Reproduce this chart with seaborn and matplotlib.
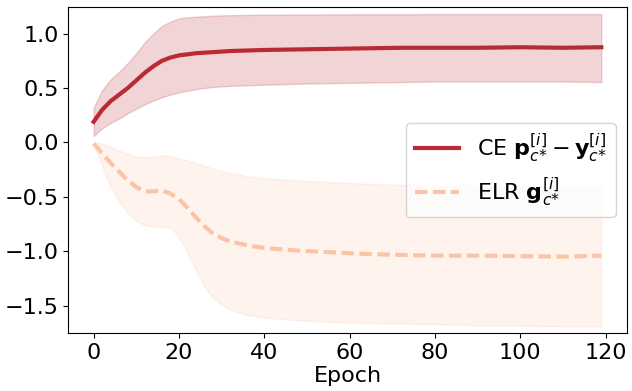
import matplotlib
matplotlib.use("Agg")
import matplotlib.pyplot as plt
import seaborn as sns

# ── data ────────────────────────────────────────────────────
epochs = [0, 2, 4, 6, 8, 10, 12, 14, 16, 18, 20, 22, 24, 26, 28, 30, 32,
          36, 40, 48, 56, 64, 72, 80, 90, 100, 110, 119]

ce_mean = [0.19, 0.30, 0.38, 0.44, 0.50, 0.57, 0.64, 0.70, 0.75, 0.78, 0.80,
           0.81, 0.82, 0.825, 0.83, 0.835, 0.84, 0.845, 0.85, 0.855, 0.86,
           0.865, 0.87, 0.87, 0.87, 0.875, 0.87, 0.875]
ce_upper = [0.32, 0.48, 0.58, 0.65, 0.73, 0.82, 0.92, 1.00, 1.07, 1.11, 1.14,
            1.15, 1.156, 1.16, 1.165, 1.168, 1.17, 1.172, 1.174, 1.176, 1.177,
            1.178, 1.178, 1.18, 1.18, 1.18, 1.18, 1.18]
ce_lower = [0.06, 0.13, 0.18, 0.22, 0.27, 0.31, 0.35, 0.385, 0.415, 0.44, 0.46,
            0.475, 0.49, 0.50, 0.51, 0.515, 0.52, 0.525, 0.53, 0.54, 0.545,
            0.55, 0.555, 0.56, 0.56, 0.56, 0.56, 0.555]

elr_mean = [-0.01, -0.10, -0.19, -0.27, -0.35, -0.41, -0.45, -0.45, -0.44,
            -0.47, -0.52, -0.60, -0.69, -0.77, -0.84, -0.88, -0.91, -0.945,
            -0.97, -0.995, -1.01, -1.025, -1.034, -1.04, -1.04, -1.045,
            -1.05, -1.04]
elr_upper = [0.0, -0.01, -0.04, -0.075, -0.105, -0.13, -0.136, -0.13, -0.118,
             -0.124, -0.145, -0.168, -0.19, -0.215, -0.24, -0.26, -0.28,
             -0.31, -0.33, -0.35, -0.366, -0.38, -0.39, -0.395, -0.40, -0.40,
             -0.40, -0.40]
elr_lower = [-0.01, -0.22, -0.41, -0.54, -0.65, -0.72, -0.76, -0.774, -0.774,
             -0.78, -0.866, -1.02, -1.17, -1.33, -1.43, -1.49, -1.54, -1.585,
             -1.61, -1.635, -1.65, -1.66, -1.665, -1.67, -1.68, -1.685,
             -1.69, -1.69]

ce_label = r"CE $\mathbf{p}_{c{*}}^{[i]} - \mathbf{y}_{c{*}}^{[i]}$"
elr_label = r"ELR $\mathbf{g}_{c{*}}^{[i]}$"

CE_COLOR = "#bb2a33"
ELR_COLOR = "#fcc4a7"

# ── plot ─────────────────────────────────────────────────────
fig, ax = plt.subplots(figsize=(6.32, 3.91), dpi=100)
fig.subplots_adjust(left=0.108, right=0.9916, bottom=0.1476, top=0.983)

sns.lineplot(x=epochs, y=ce_mean, ax=ax, color=CE_COLOR, linewidth=3,
             label=ce_label)
ax.fill_between(epochs, ce_lower, ce_upper, color=CE_COLOR, alpha=0.2)

sns.lineplot(x=epochs, y=elr_mean, ax=ax, color=ELR_COLOR, linewidth=3,
             label=elr_label)
ax.lines[-1].set_dashes((3.0, 1.3))
ax.fill_between(epochs, elr_lower, elr_upper, color=ELR_COLOR, alpha=0.2)

ax.set_ylim(-1.754, 1.248)
ax.set_xlabel("Epoch", fontsize=16, labelpad=2)
ax.tick_params(labelsize=16)

leg = ax.legend(loc="center right", fontsize=16)
leg.get_lines()[1].set_dashes((3.0, 1.3))

fig.savefig("out.png", dpi=100)
